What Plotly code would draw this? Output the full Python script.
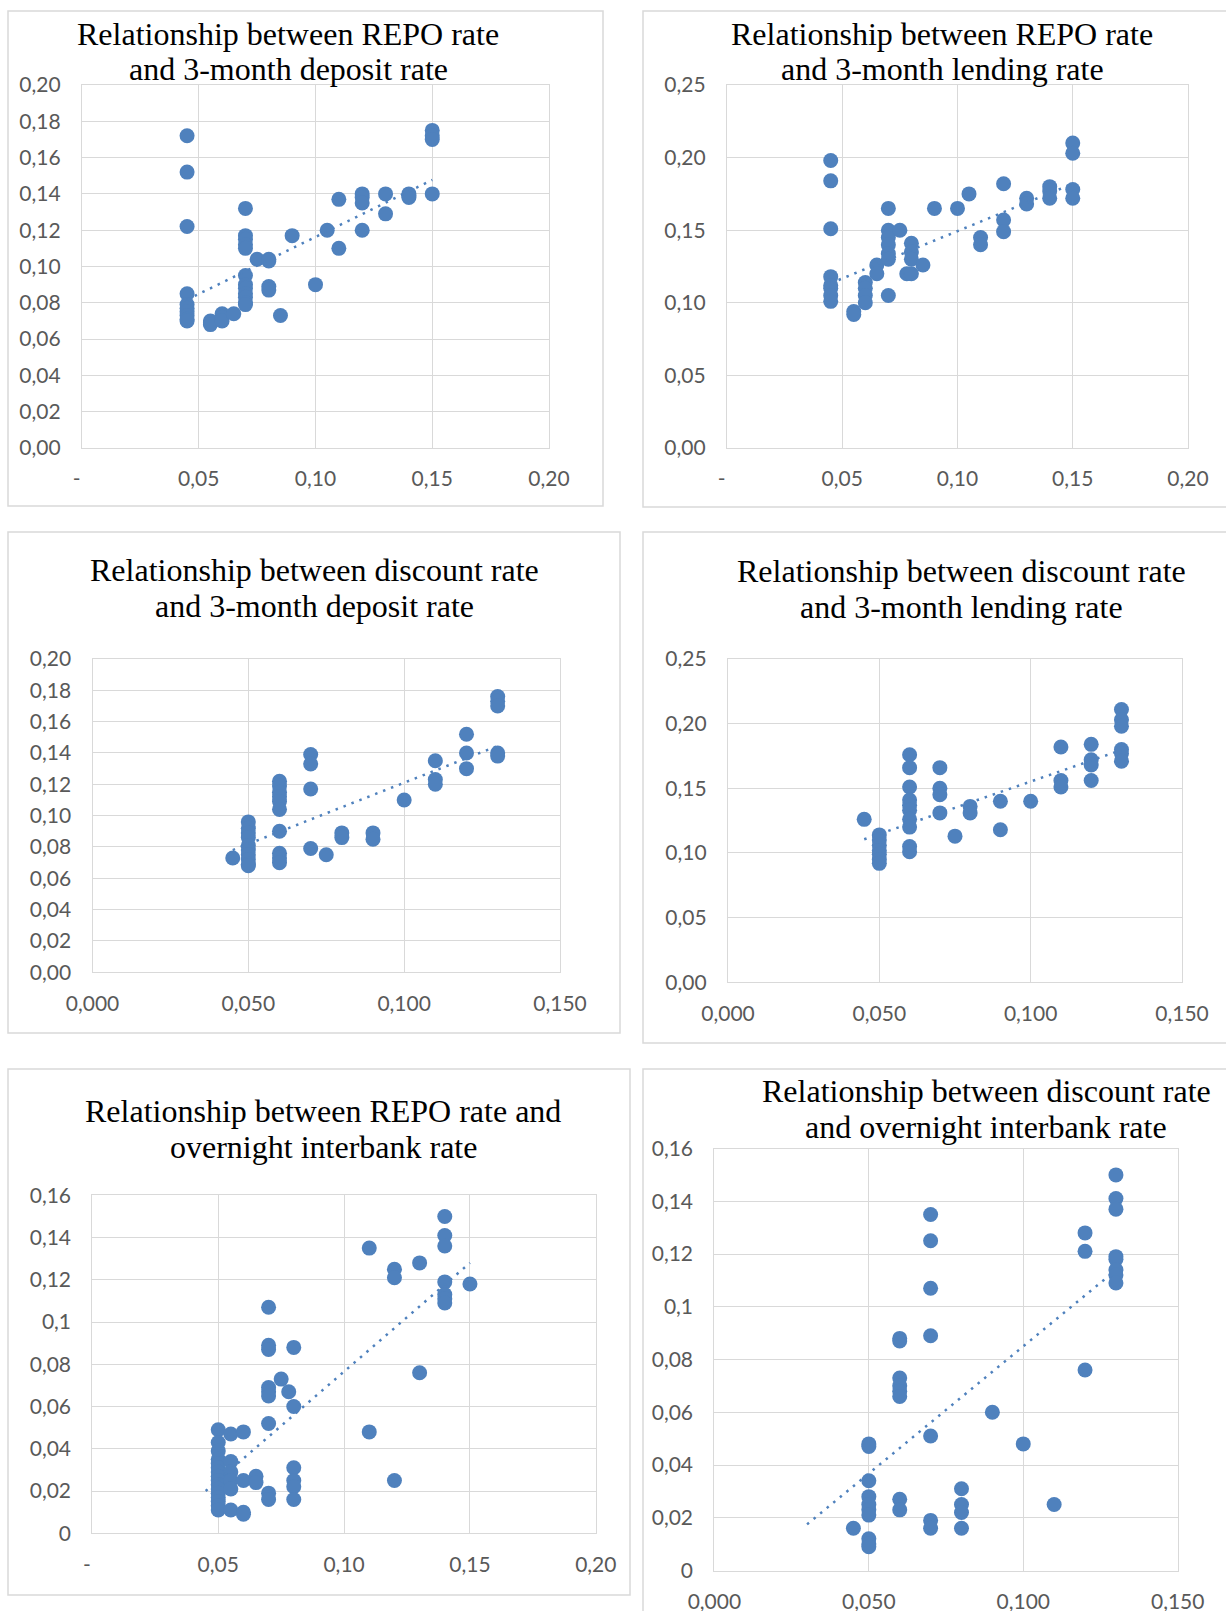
import plotly.graph_objects as go

W, H = 1226, 1611
BLUE = "#4F81BD"
GRID = "#D9D9D9"

# ---------------- data ----------------
# Panel 1: REPO rate vs 3-month deposit rate
p1_x = ([0.045] * 10 + [0.055] * 3 + [0.06] * 3 + [0.065] + [0.07] * 12 + [0.075] + [0.08] * 4 +
        [0.085] + [0.09] + [0.10] + [0.105] + [0.11] * 2 + [0.12] * 4 + [0.13] * 2 + [0.14] * 3 + [0.15] * 4)
p1_y = ([0.172, 0.152, 0.122, 0.085, 0.079, 0.077, 0.075, 0.073, 0.071, 0.070] +
        [0.070, 0.069, 0.068] + [0.074, 0.072, 0.070] + [0.074] +
        [0.132, 0.117, 0.115, 0.112, 0.110, 0.095, 0.090, 0.088, 0.085, 0.083, 0.080, 0.079] +
        [0.104] + [0.104, 0.103, 0.089, 0.087] + [0.073] + [0.117] + [0.090] + [0.120] +
        [0.137, 0.110] + [0.140, 0.138, 0.135, 0.120] + [0.140, 0.129] + [0.140, 0.138, 0.139] +
        [0.175, 0.172, 0.170, 0.140])
p1_trend_x = [0.045, 0.15]
p1_trend_y = [0.0817, 0.1477]

# Panel 2: REPO rate vs 3-month lending rate
p2_x = ([0.045] * 8 + [0.055] * 2 + [0.06] * 4 + [0.065] * 2 + [0.07] * 7 + [0.075] + [0.078] +
        [0.08] * 4 + [0.085] + [0.09] + [0.10] + [0.105] + [0.11] * 2 + [0.12] * 3 + [0.13] * 2 +
        [0.14] * 3 + [0.15] * 4)
p2_y = ([0.198, 0.184, 0.151, 0.118, 0.112, 0.110, 0.105, 0.101] + [0.094, 0.092] +
        [0.114, 0.110, 0.105, 0.100] + [0.126, 0.120] + [0.165, 0.150, 0.145, 0.140, 0.134, 0.130, 0.105] +
        [0.150] + [0.120] + [0.141, 0.135, 0.130, 0.120] + [0.126] + [0.165] + [0.165] + [0.175] +
        [0.145, 0.140] + [0.182, 0.157, 0.149] + [0.172, 0.168] + [0.180, 0.177, 0.172] +
        [0.210, 0.203, 0.178, 0.172])
p2_trend_x = [0.045, 0.15]
p2_trend_y = [0.1135, 0.182]

# Panel 3: discount rate vs 3-month deposit rate
p3_x = ([0.045] + [0.05] * 10 + [0.06] * 10 + [0.07] * 4 + [0.075] + [0.08] * 2 + [0.09] * 2 +
        [0.10] + [0.11] * 3 + [0.12] * 3 + [0.13] * 5)
p3_y = ([0.073] + [0.096, 0.092, 0.089, 0.086, 0.081, 0.078, 0.075, 0.072, 0.069, 0.068] +
        [0.122, 0.119, 0.115, 0.112, 0.109, 0.104, 0.090, 0.076, 0.073, 0.070] +
        [0.139, 0.133, 0.117, 0.079] + [0.075] + [0.089, 0.086] + [0.089, 0.085] + [0.110] +
        [0.135, 0.123, 0.120] + [0.152, 0.140, 0.130] + [0.176, 0.173, 0.170, 0.140, 0.138])
p3_trend_x = [0.045, 0.13]
p3_trend_y = [0.078, 0.1445]

# Panel 4: discount rate vs 3-month lending rate
p4_x = ([0.045] + [0.05] * 7 + [0.06] * 10 + [0.07] * 4 + [0.075] + [0.08] * 2 + [0.09] * 2 +
        [0.10] + [0.11] * 3 + [0.12] * 4 + [0.13] * 6)
p4_y = ([0.126] + [0.114, 0.110, 0.106, 0.102, 0.099, 0.095, 0.092] +
        [0.176, 0.166, 0.151, 0.141, 0.137, 0.133, 0.126, 0.120, 0.105, 0.101] +
        [0.166, 0.150, 0.145, 0.131] + [0.113] + [0.136, 0.131] + [0.140, 0.118] + [0.140] +
        [0.182, 0.156, 0.151] + [0.184, 0.172, 0.168, 0.156] + [0.211, 0.203, 0.198, 0.180, 0.177, 0.171])
p4_trend_x = [0.045, 0.13]
p4_trend_y = [0.1106, 0.1796]

# Panel 5: REPO rate vs overnight interbank rate
p5_x = ([0.05] * 16 + [0.055] * 6 + [0.06] * 4 + [0.065] * 2 + [0.07] * 9 + [0.075] + [0.078] +
        [0.08] * 6 + [0.11] * 2 + [0.12] * 3 + [0.13] * 2 + [0.14] * 7 + [0.15])
p5_y = ([0.049, 0.043, 0.039, 0.035, 0.033, 0.031, 0.029, 0.027, 0.025, 0.023, 0.021, 0.019,
         0.017, 0.015, 0.013, 0.011] + [0.047, 0.034, 0.029, 0.025, 0.021, 0.011] +
        [0.048, 0.025, 0.010, 0.009] + [0.027, 0.024] +
        [0.107, 0.089, 0.087, 0.069, 0.067, 0.065, 0.052, 0.019, 0.016] + [0.073] + [0.067] +
        [0.088, 0.060, 0.031, 0.025, 0.022, 0.016] + [0.135, 0.048] + [0.125, 0.121, 0.025] +
        [0.128, 0.076] + [0.150, 0.141, 0.136, 0.119, 0.113, 0.111, 0.109] + [0.118])
p5_trend_x = [0.045, 0.15]
p5_trend_y = [0.020, 0.128]

# Panel 6: discount rate vs overnight interbank rate
p6_x = ([0.045] + [0.05] * 10 + [0.06] * 8 + [0.07] * 7 + [0.08] * 4 + [0.09] + [0.10] + [0.11] +
        [0.12] * 3 + [0.13] * 8)
p6_y = ([0.016] + [0.048, 0.047, 0.034, 0.028, 0.025, 0.023, 0.021, 0.012, 0.010, 0.009] +
        [0.088, 0.087, 0.073, 0.070, 0.068, 0.066, 0.027, 0.023] +
        [0.135, 0.125, 0.107, 0.089, 0.051, 0.019, 0.016] + [0.031, 0.025, 0.022, 0.016] +
        [0.060] + [0.048] + [0.025] + [0.128, 0.121, 0.076] +
        [0.150, 0.141, 0.137, 0.119, 0.118, 0.114, 0.112, 0.109])
p6_trend_x = [0.03, 0.128]
p6_trend_y = [0.0175, 0.112]

# tick values / labels
x_ticks_a = [0, 0.05, 0.10, 0.15, 0.20]
x_text_a = ["-\u00a0\u00a0", "0,05", "0,10", "0,15", "0,20"]
x_ticks_b = [0, 0.05, 0.10, 0.15]
x_text_b = ["0,000", "0,050", "0,100", "0,150"]
y_ticks_02 = [0, 0.02, 0.04, 0.06, 0.08, 0.10, 0.12, 0.14, 0.16, 0.18, 0.20]
y_text_02 = ["0,00", "0,02", "0,04", "0,06", "0,08", "0,10", "0,12", "0,14", "0,16", "0,18", "0,20"]
y_ticks_05 = [0, 0.05, 0.10, 0.15, 0.20, 0.25]
y_text_05 = ["0,00", "0,05", "0,10", "0,15", "0,20", "0,25"]
y_ticks_16 = [0, 0.02, 0.04, 0.06, 0.08, 0.10, 0.12, 0.14, 0.16]
y_text_16 = ["0", "0,02", "0,04", "0,06", "0,08", "0,1", "0,12", "0,14", "0,16"]

titles = [
    ("Relationship between REPO rate", "and 3-month deposit rate"),
    ("Relationship between REPO rate", "and 3-month lending rate"),
    ("Relationship between discount rate", "and 3-month deposit rate"),
    ("Relationship between discount rate", "and 3-month lending rate"),
    ("Relationship between REPO rate and", "overnight interbank rate"),
    ("Relationship between discount rate", "and overnight interbank rate"),
]

# ---------------- layout geometry (pixels) ----------------
panels = [
    dict(x=p1_x, y=p1_y, tx=p1_trend_x, ty=p1_trend_y, xt=(x_ticks_a, x_text_a), yt=(y_ticks_02, y_text_02),
         xr=[0, 0.2], yr=[0, 0.2], plot=(82, 549, 85, 448), frame=(8, 603, 11, 506), tcx=288, tb=(45, 80)),
    dict(x=p2_x, y=p2_y, tx=p2_trend_x, ty=p2_trend_y, xt=(x_ticks_a, x_text_a), yt=(y_ticks_05, y_text_05),
         xr=[0, 0.2], yr=[0, 0.25], plot=(727, 1188, 85, 448), frame=(643, 1240, 11, 507), tcx=942, tb=(45, 80)),
    dict(x=p3_x, y=p3_y, tx=p3_trend_x, ty=p3_trend_y, xt=(x_ticks_b, x_text_b), yt=(y_ticks_02, y_text_02),
         xr=[0, 0.15], yr=[0, 0.2], plot=(92.5, 560, 659, 972.3), frame=(8, 620, 532, 1033), tcx=314, tb=(581, 617)),
    dict(x=p4_x, y=p4_y, tx=p4_trend_x, ty=p4_trend_y, xt=(x_ticks_b, x_text_b), yt=(y_ticks_05, y_text_05),
         xr=[0, 0.15], yr=[0, 0.25], plot=(728, 1182, 659, 982.3), frame=(643, 1240, 532, 1043), tcx=962, tb=(582, 618)),
    dict(x=p5_x, y=p5_y, tx=p5_trend_x, ty=p5_trend_y, xt=(x_ticks_a, x_text_a), yt=(y_ticks_16, y_text_16),
         xr=[0, 0.2], yr=[0, 0.16], plot=(92.4, 595.8, 1195.3, 1533.3), frame=(8, 630, 1069, 1595), tcx=323, tb=(1121.5, 1158)),
    dict(x=p6_x, y=p6_y, tx=p6_trend_x, ty=p6_trend_y, xt=(x_ticks_b, x_text_b), yt=(y_ticks_16, y_text_16),
         xr=[0, 0.15], yr=[0, 0.16], plot=(714.4, 1177.7, 1148.5, 1570.5), frame=(643, 1240, 1069, 1640), tcx=986, tb=(1101.5, 1138)),
]


def px_x(v):
    return v / W


def px_y(v):
    return 1 - v / H


fig = go.Figure()
shapes = []
annotations = []
tick_font = dict(family="Lato", size=21, color="#595959")
title_font = dict(family="Liberation Serif", size=32, color="#000000")

for i, p in enumerate(panels, start=1):
    sfx = "" if i == 1 else str(i)
    xa, ya = "x" + sfx, "y" + sfx
    fig.add_trace(go.Scatter(x=p["x"], y=p["y"], mode="markers", xaxis=xa, yaxis=ya,
                             marker=dict(size=15, color=BLUE, line=dict(width=0)),
                             showlegend=False, hoverinfo="x+y"))
    fig.add_trace(go.Scatter(x=p["tx"], y=p["ty"], mode="lines", xaxis=xa, yaxis=ya,
                             line=dict(color=BLUE, width=2.5, dash="2.5px,6px"),
                             showlegend=False, hoverinfo="skip"))
    x0, x1, y0, y1 = p["plot"]
    common = dict(showgrid=True, gridcolor=GRID, gridwidth=1.3, showline=True, linecolor=GRID,
                  linewidth=1.3, mirror=True, zeroline=False, ticks="", tickfont=tick_font,
                  tickmode="array", fixedrange=True, automargin=False)
    fig.layout["xaxis" + sfx] = dict(common, domain=[px_x(x0), px_x(x1)], range=p["xr"], anchor=ya,
                                     tickvals=p["xt"][0], ticktext=p["xt"][1], ticklabelstandoff=12)
    fig.layout["yaxis" + sfx] = dict(common, domain=[px_y(y1), px_y(y0)], range=p["yr"], anchor=xa,
                                     tickvals=p["yt"][0], ticktext=p["yt"][1], ticklabelstandoff=16)
    fx0, fx1, fy0, fy1 = p["frame"]
    shapes.append(dict(type="rect", xref="paper", yref="paper", x0=px_x(fx0), x1=px_x(fx1),
                       y0=px_y(fy1), y1=px_y(fy0), line=dict(color=GRID, width=1.5),
                       fillcolor="rgba(0,0,0,0)", layer="below"))
    for line_text, base in zip(titles[i - 1], p["tb"]):
        annotations.append(dict(text=line_text, xref="paper", yref="paper", x=px_x(p["tcx"]),
                                y=px_y(base - 11), xanchor="center", yanchor="middle",
                                showarrow=False, font=title_font))

fig.update_layout(width=W, height=H,
                  margin=dict(l=0, r=0, t=0, b=0, pad=0, autoexpand=False),
                  template="none",
                  paper_bgcolor="white", plot_bgcolor="white",
                  shapes=shapes, annotations=annotations, showlegend=False)

fig.write_html("out.html", config={"displayModeBar": False},
               post_script="document.body.style.margin='0px';document.body.style.overflow='hidden';")
